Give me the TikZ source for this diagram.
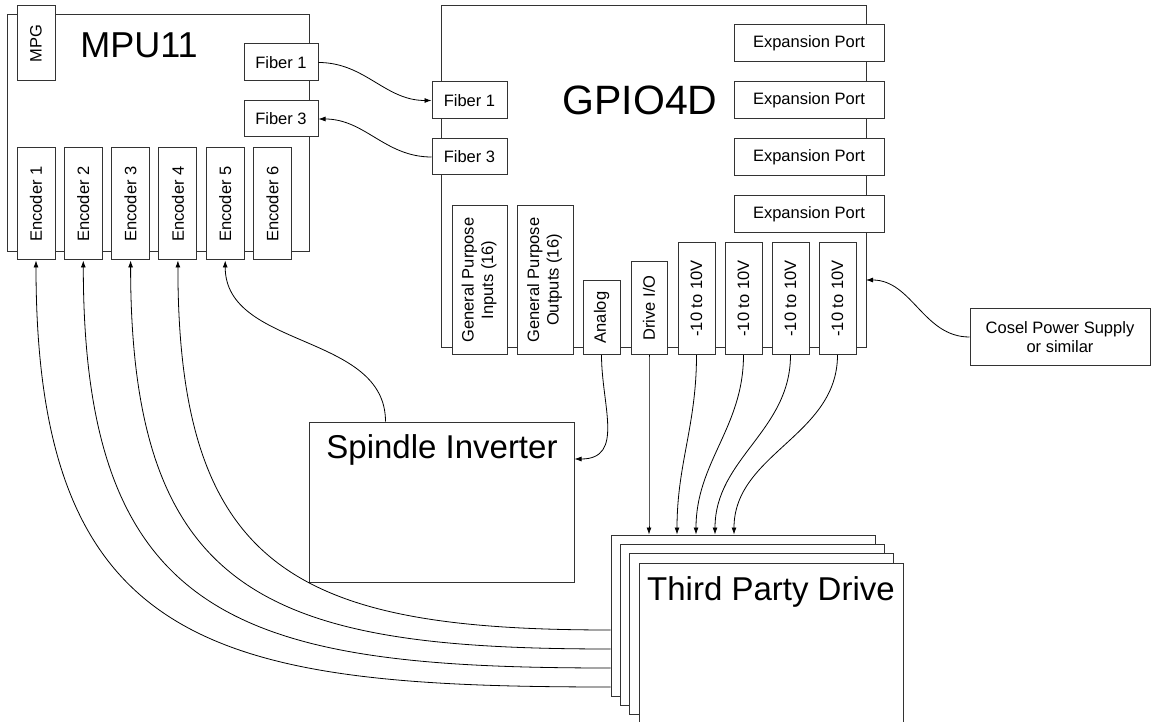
\documentclass[tikz,border=0pt]{standalone}
\usepackage{fontspec}
\setmainfont{Liberation Sans}
\usetikzlibrary{arrows.meta}

\tikzset{
  box/.style={draw=black!80,fill=white,line width=1pt,inner sep=0pt,align=center,font=\fontsize{16.5}{19.5}\selectfont},
  title/.style={inner sep=0pt,font=\fontsize{33}{40}\selectfont},
  wire/.style={line width=.8pt,-{Latex[length=7pt,width=5pt]}},
}

\begin{document}
\begin{tikzpicture}[x=1pt,y=-1pt]
\path[use as bounding box] (0,0) rectangle (1152,722);
% MPU11 board
\node[box,minimum width=302pt,minimum height=237pt] (mpu) at (158,133.5) {};
\node[box,minimum width=38pt,minimum height=75pt] (mpg) at (36,43.5) {\rotatebox{90}{MPG}};
\node[title,font=\fontsize{36}{40}\selectfont] (mputitle) at (139,45) {MPU11};
\node[box,minimum width=74pt,minimum height=37pt] (mpuf1) at (281,62.5) {Fiber 1};
\node[box,minimum width=74pt,minimum height=36pt] (mpuf3) at (281,119) {Fiber 3};
\foreach \i in {1,...,6}
  \node[box,minimum width=38pt,minimum height=112pt] (enc\i) at ({36+47.3*(\i-1)},204) {\rotatebox{90}{Encoder \i}};
% GPIO4D board
\node[box,minimum width=425pt,minimum height=341pt] (gpio) at (653.5,176.5) {};
\node[title,font=\fontsize{41}{46}\selectfont] (gpiotitle) at (640,100) {GPIO4D};
\node[box,minimum width=75pt,minimum height=37pt] (gpiof1) at (469.5,100.5) {Fiber 1};
\node[box,minimum width=75pt,minimum height=36pt] (gpiof3) at (469.5,157) {Fiber 3};
\foreach \i in {1,...,4}
  \node[box,minimum width=150pt,minimum height=37pt] (exp\i) at (809,{43.5+56.8*(\i-1)}) {Expansion Port};
\node[box,anchor=south,minimum width=55pt,minimum height=149pt] (gpin) at (479.5,355) {\rotatebox{90}{\begin{tabular}{@{}c@{}}General Purpose\\Inputs (16)\end{tabular}}};
\node[box,anchor=south,minimum width=56pt,minimum height=149pt] (gpout) at (545,355) {\rotatebox{90}{\begin{tabular}{@{}c@{}}General Purpose\\Outputs (16)\end{tabular}}};
\node[box,anchor=south,minimum width=37pt,minimum height=74pt] (analog) at (601.5,355) {\rotatebox{90}{Analog}};
\node[box,anchor=south,minimum width=36pt,minimum height=93pt] (driveio) at (649,355) {\rotatebox{90}{Drive I/O}};
\foreach \i in {1,...,4}
  \node[box,anchor=south,minimum width=37pt,minimum height=112pt] (ao\i) at ({696.5+47*(\i-1)},355) {\rotatebox{90}{-10 to 10V}};
\coordinate (pwrin) at (866,280);
% power supply
\node[box,minimum width=180pt,minimum height=56pt] (cosel) at (1060,337) {Cosel Power Supply\\or similar};
% spindle inverter
\node[box,minimum width=265pt,minimum height=160pt] (spindle) at (441.5,502) {};
\node[title] (spindletitle) at (442,450) {Spindle Inverter};
% stack of drives
\foreach \i in {1,...,4}
  \node[box,minimum width=264pt,minimum height=161pt] (drive\i) at ({743+9.4*(\i-1)},{615.5+9.4*(\i-1)}) {};
\node[title] (drivetitle) at (771,592) {Third Party Drive};
% connections
\draw[wire] (mpuf1.east) to[out=0,in=180] (gpiof1.west);
\draw[wire] (gpiof3.west) to[out=180,in=0] (mpuf3.east);
\draw[wire] (cosel.west) to[out=180,in=0] (pwrin);
\draw[wire] (analog.south) to[out=-90,in=0,looseness=1.2] ([yshift=43pt]spindle.east);
\draw[wire] ([xshift=-56pt]spindle.north) to[out=90,in=-90] (enc5.south);
\draw[wire] (driveio.south) to[out=-90,in=90] ([xshift=-94pt]drive1.north);
\foreach \i/\d in {1/-66,2/-47,3/-28,4/-9}
  \draw[wire] (ao\i.south) to[out=-90,in=90] ([xshift=\d pt]drive1.north);
\foreach \e/\s in {1/71.5,2/52.5,3/33.5,4/14.5}
  \draw[wire] ([yshift=-\s pt]drive1.west) to[out=180,in=-90,looseness=1.4] (enc\e.south);
\end{tikzpicture}
\end{document}
